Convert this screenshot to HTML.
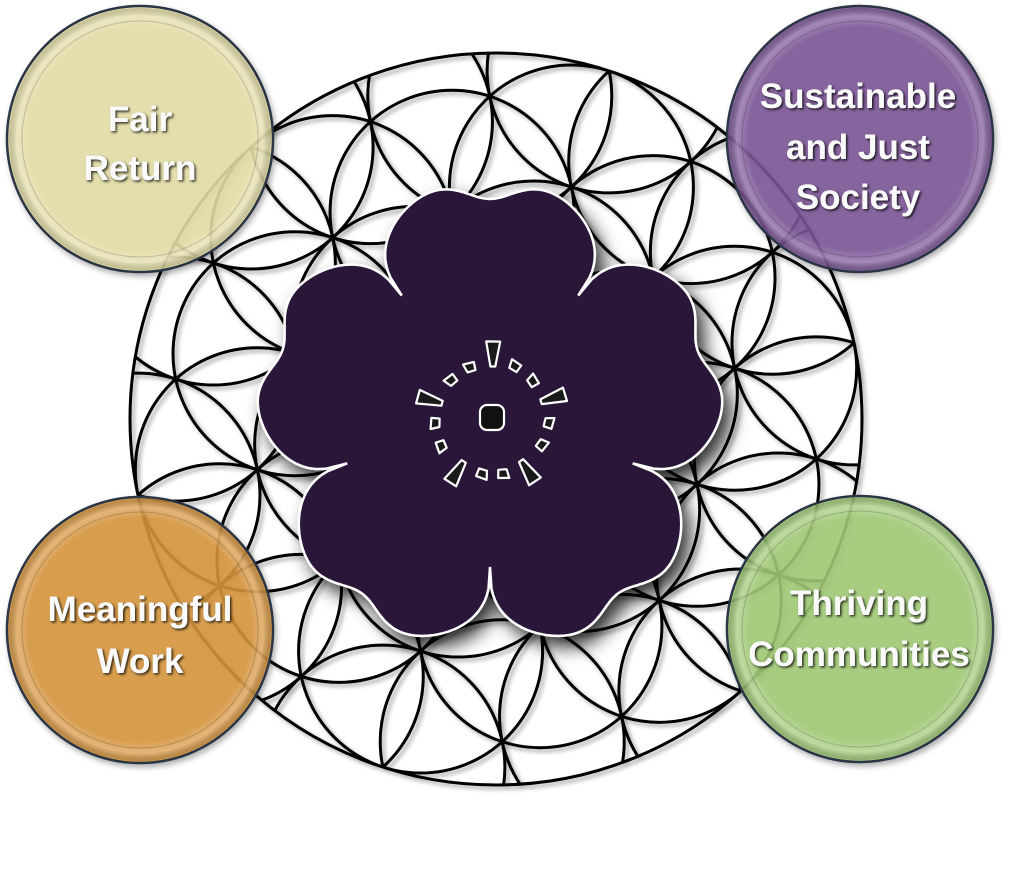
<!DOCTYPE html>
<html><head><meta charset="utf-8"><style>
html,body{margin:0;padding:0;background:#fff;}
svg{display:block;}
.t{font-family:"Liberation Sans",sans-serif;font-weight:bold;font-size:35px;fill:#fafafa;text-anchor:middle;}
</style></head><body>
<svg id="s" width="1011" height="880" viewBox="0 0 1011 880" xmlns="http://www.w3.org/2000/svg">
<defs>
<filter id="ls" x="-10%" y="-10%" width="120%" height="120%"><feDropShadow dx="3" dy="3" stdDeviation="2" flood-color="#000" flood-opacity="0.35"/></filter>
<filter id="fs" x="-20%" y="-20%" width="140%" height="140%"><feDropShadow dx="8" dy="10" stdDeviation="9" flood-color="#000" flood-opacity="0.8"/></filter>
<filter id="ts" x="-10%" y="-20%" width="120%" height="140%"><feDropShadow dx="1.5" dy="1.5" stdDeviation="1.2" flood-color="#000" flood-opacity="0.8"/></filter>
<filter id="cs" x="-10%" y="-10%" width="120%" height="120%"><feDropShadow dx="2" dy="3" stdDeviation="3" flood-color="#000" flood-opacity="0.35"/></filter>
<radialGradient id="sh" cx="50%" cy="50%" r="50%"><stop offset="85%" stop-color="#fff" stop-opacity="0"/><stop offset="94%" stop-color="#fff" stop-opacity="0.25"/><stop offset="100%" stop-color="#000" stop-opacity="0.15"/></radialGradient>
<clipPath id="oc"><circle cx="496" cy="419" r="366"/></clipPath>
</defs>
<g filter="url(#ls)">
<g id="lat" fill="none" stroke="#000" stroke-width="3" clip-path="url(#oc)"></g>
<circle cx="496" cy="419" r="366" fill="none" stroke="#000" stroke-width="3"/>
</g>
<g id="circ"></g>
<path id="flower" fill="#2a1439" stroke="#fff" stroke-width="2.5" filter="url(#fs)"/>
<g id="deco" stroke="#fff" stroke-width="2.2" fill="#1a1a1a" stroke-linejoin="round"></g>
<g filter="url(#ts)">
<text class="t" x="140" y="131">Fair</text>
<text class="t" x="140" y="180">Return</text>
<text class="t" x="858" y="108">Sustainable</text>
<text class="t" x="858" y="159">and Just</text>
<text class="t" x="858" y="209">Society</text>
<text class="t" x="140" y="621">Meaningful</text>
<text class="t" x="140" y="673">Work</text>
<text class="t" x="859" y="615">Thriving</text>
<text class="t" x="859" y="666">Communities</text>
</g>
</svg>
<script>
var NS="http://www.w3.org/2000/svg";
function el(n,a,p){var e=document.createElementNS(NS,n);for(var k in a)e.setAttribute(k,a[k]);p.appendChild(e);return e;}
var lat=document.getElementById('lat');
var cx=496,cy=419,r=122,rot=-12*Math.PI/180;
var ux=r*Math.cos(rot),uy=r*Math.sin(rot),vx=r*Math.cos(rot-Math.PI/3),vy=r*Math.sin(rot-Math.PI/3);
for(var a=-3;a<=3;a++)for(var b=-3;b<=3;b++){if(Math.abs(a+b)>3)continue;
el('circle',{cx:cx+a*ux+b*vx,cy:cy+a*uy+b*vy,r:r},lat);}
var circ=document.getElementById('circ');
[[140,139,'#e6e0a6'],[860,139,'#7c5597'],[140,630,'#d9963c'],[860,629,'#a2cc77']].forEach(function(c){
var g=el('g',{filter:'url(#cs)'},circ);
el('circle',{cx:c[0],cy:c[1],r:133,fill:c[2],'fill-opacity':0.86,stroke:'#2b3444','stroke-width':2.5},g);
el('circle',{cx:c[0],cy:c[1],r:131,fill:'url(#sh)'},g);
el('circle',{cx:c[0],cy:c[1],r:118,fill:'none',stroke:'#000','stroke-opacity':0.18,'stroke-width':1},g);
});
// flower: 5 heart-shaped petals, deep notches at 54+72k deg
var fx=490,fy=417,deep=150,Rm=242,d='';
for(var i=0;i<=720;i++){var ph=i/2;var t=((ph-54)%72+72)%72;var u=t/72;
var rr=deep+(Rm-deep)*Math.pow(Math.sin(Math.PI*u),0.38)-24*Math.exp(-Math.pow((u-0.5)/0.13,2));
var an=ph*Math.PI/180;var x=fx+rr*Math.cos(an),y=fy-rr*Math.sin(an);
d+=(i?'L':'M')+x.toFixed(1)+' '+y.toFixed(1);}
document.getElementById('flower').setAttribute('d',d+'Z');
var deco=document.getElementById('deco');
el('rect',{x:480,y:405,width:24,height:25,rx:7,fill:'#111'},deco);
function quad(x,y,w,h,ang,big){var hw=w/2,hh=h/2;var p=big?[[-hw*0.35,-hh],[hw*0.35,-hh],[hw,hh],[-hw,hh]]:[[-hw,-hh],[hw,-hh*0.6],[hw*0.7,hh],[-hw*0.8,hh*0.8]];
var c=Math.cos(ang),s=Math.sin(ang);
el('polygon',{points:p.map(function(q){return (x+q[0]*c-q[1]*s).toFixed(1)+','+(y+q[0]*s+q[1]*c).toFixed(1);}).join(' ')},deco);}
var pts=[[493,354,1],[470,367,0],[515,366,0],[451,380,0],[533,381,0],[430,400,1],[553,398,1],[435,423,0],[549,423,0],[441,446,0],[542,445,0],[457,472,1],[528,471,1],[482,474,0],[503,474,0]];
pts.forEach(function(p){var ang=Math.atan2(p[1]-417,p[0]-492)+Math.PI/2;
if(p[2])quad(p[0],p[1],14,25,ang+Math.PI,1);else quad(p[0],p[1],11,10,ang,0);});
</script>
</body></html>
